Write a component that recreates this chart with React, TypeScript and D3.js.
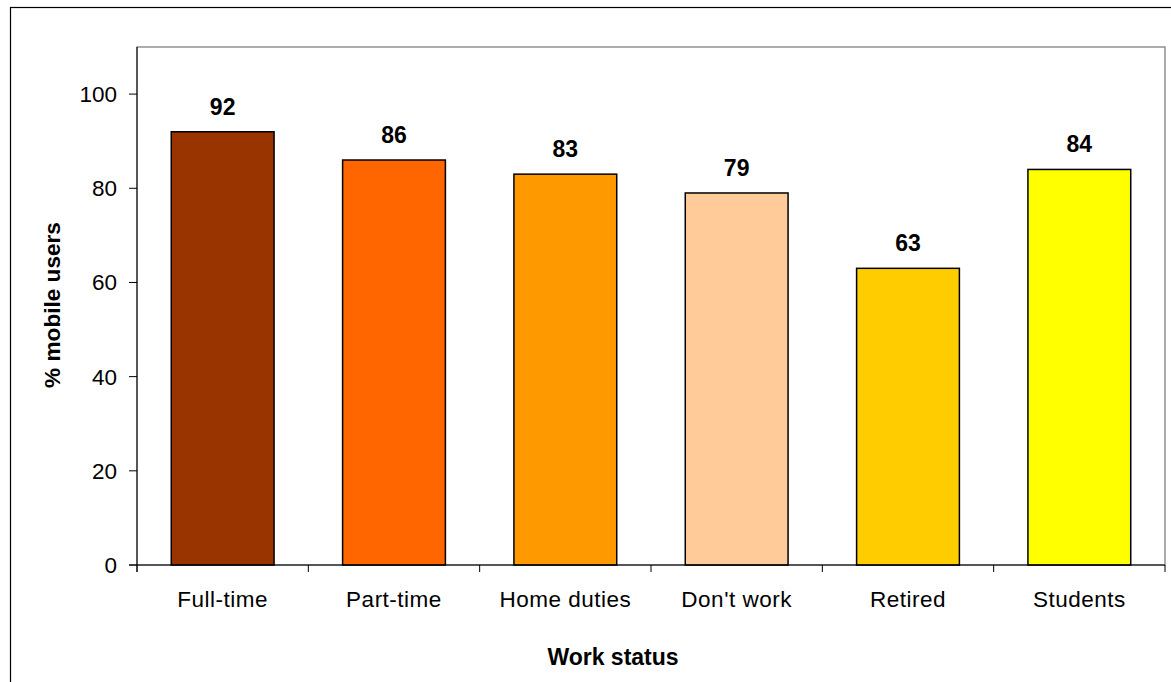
import React from "react";
import * as d3 from "d3";

const categories = ["Full-time", "Part-time", "Home duties", "Don't work", "Retired", "Students"];
const values = [92, 86, 83, 79, 63, 84];
const colors = ["#993300", "#FF6600", "#FF9900", "#FFCC99", "#FFCC00", "#FFFF00"];
const yTicks = [0, 20, 40, 60, 80, 100];

export default function App() {
  const W = 1171, H = 682;
  const left = 137, right = 1165, top = 47, bottom = 565;
  const x = d3.scaleBand<string>().domain(categories).range([left, right]).paddingInner(0).paddingOuter(0);
  const y = d3.scaleLinear().domain([0, 110]).range([bottom, top]);
  const bw = x.bandwidth() * 0.6;
  const font = "Arial, 'Liberation Sans', sans-serif";
  const boundaries = d3.range(categories.length + 1).map((i) => left + i * x.step());
  return (
    <svg width={W} height={H} style={{ position: "absolute", left: 0, top: 0, background: "#fff" }} fontFamily={font}>
      <rect x={10.5} y={7.5} width={1300} height={800} fill="#fff" stroke="#000" strokeWidth={1.2} />
      <rect x={left} y={top} width={right - left} height={bottom - top} fill="#fff" stroke="#808080" strokeWidth={1.3} />
      {categories.map((c, i) => (
        <rect key={c} x={x(c)! + (x.bandwidth() - bw) / 2} y={y(values[i])} width={bw} height={y(0) - y(values[i])}
          fill={colors[i]} stroke="#000" strokeWidth={1.5} />
      ))}
      <line x1={left} x2={left} y1={top} y2={bottom + 7} stroke="#000" strokeWidth={1} />
      <line x1={left - 8} x2={right} y1={bottom} y2={bottom} stroke="#000" strokeWidth={1} />
      {yTicks.map((t) => (
        <g key={t}>
          <line x1={left - 8} x2={left} y1={y(t)} y2={y(t)} stroke="#000" />
          <text x={117} y={y(t)} dy="0.35em" textAnchor="end" fontSize={22.5} fill="#000">{t}</text>
        </g>
      ))}
      {boundaries.map((b, i) => (
        <line key={i} x1={b} x2={b} y1={bottom} y2={bottom + 7} stroke="#000" />
      ))}
      {categories.map((c) => (
        <text key={c} x={x(c)! + x.bandwidth() / 2} y={607} textAnchor="middle" fontSize={22.5} letterSpacing={0.5} fill="#000">{c}</text>
      ))}
      {categories.map((c, i) => (
        <text key={c} x={x(c)! + x.bandwidth() / 2} y={y(values[i]) - 17} textAnchor="middle" fontSize={23} fontWeight="bold" fill="#000">{values[i]}</text>
      ))}
      <text x={613} y={665} textAnchor="middle" fontSize={23} fontWeight="bold" fill="#000">Work status</text>
      <text transform={`translate(60,305) rotate(-90)`} textAnchor="middle" fontSize={22.6} fontWeight="bold" fill="#000">% mobile users</text>
    </svg>
  );
}
